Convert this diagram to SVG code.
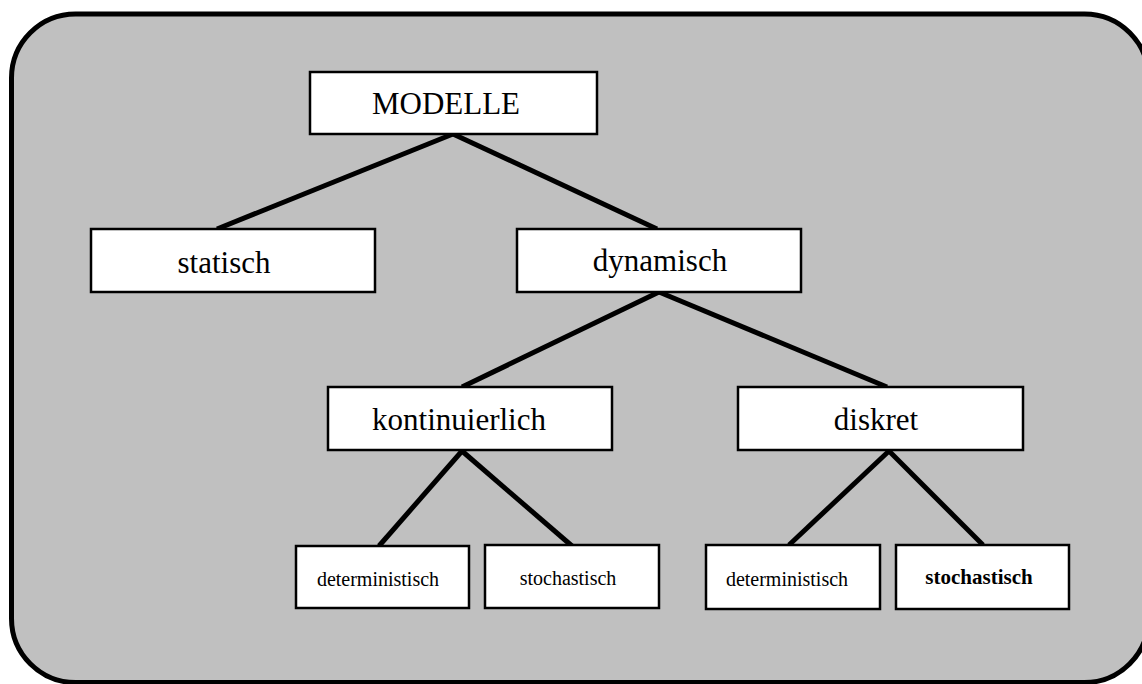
<svg xmlns="http://www.w3.org/2000/svg" width="1142" height="684" viewBox="0 0 1142 684">
  <style>
    .frame { fill: #c0c0c0; stroke: #000; stroke-width: 5; }
    .box { fill: #fff; stroke: #000; stroke-width: 2.5; }
    .edge { stroke: #000; stroke-width: 5; stroke-linecap: butt; fill: none; }
    .lbl { font-family: "Liberation Serif", "Times New Roman", serif; fill: #000; text-anchor: middle; }
    .big { font-size: 31px; }
    .small { font-size: 20px; }
    .bold { font-size: 21px; font-weight: bold; }
  </style>
  <rect width="1142" height="684" fill="#fff"/>
  <!-- background panel, right side runs past the canvas edge -->
  <rect class="frame" x="11.5" y="14" width="1137" height="668.5" rx="64" ry="64"/>

  <!-- tree edges -->
  <g id="connectors">
    <line class="edge" x1="453" y1="134" x2="217" y2="229"/>
    <line class="edge" x1="453" y1="134" x2="657" y2="229"/>
    <line class="edge" x1="659" y1="292" x2="462" y2="387"/>
    <line class="edge" x1="659" y1="292" x2="887" y2="387"/>
    <line class="edge" x1="462" y1="451" x2="379" y2="546"/>
    <line class="edge" x1="462" y1="451" x2="572" y2="546"/>
    <line class="edge" x1="889" y1="451" x2="789" y2="545"/>
    <line class="edge" x1="889" y1="451" x2="983" y2="545"/>
  </g>

  <g id="modelle">
    <rect class="box" x="310" y="72" width="287" height="62"/>
    <text class="lbl big" x="446" y="114">MODELLE</text>
  </g>
  <g id="statisch">
    <rect class="box" x="91" y="229" width="284" height="63"/>
    <text class="lbl big" x="224" y="273">statisch</text>
  </g>
  <g id="dynamisch">
    <rect class="box" x="517" y="229" width="284" height="63"/>
    <text class="lbl big" x="660" y="271">dynamisch</text>
  </g>
  <g id="kontinuierlich">
    <rect class="box" x="328" y="387" width="284" height="63"/>
    <text class="lbl big" x="459" y="430">kontinuierlich</text>
  </g>
  <g id="diskret">
    <rect class="box" x="738" y="387" width="285" height="63"/>
    <text class="lbl big" x="876" y="430">diskret</text>
  </g>
  <g id="kont-deterministisch">
    <rect class="box" x="296" y="546" width="173" height="62"/>
    <text class="lbl small" x="378" y="586">deterministisch</text>
  </g>
  <g id="kont-stochastisch">
    <rect class="box" x="485" y="545" width="174" height="63"/>
    <text class="lbl small" x="568" y="585">stochastisch</text>
  </g>
  <g id="disk-deterministisch">
    <rect class="box" x="706" y="545" width="174" height="64"/>
    <text class="lbl small" x="787" y="586">deterministisch</text>
  </g>
  <g id="disk-stochastisch">
    <rect class="box" x="896" y="545" width="173" height="64"/>
    <text class="lbl bold" x="979" y="584">stochastisch</text>
  </g>
</svg>
